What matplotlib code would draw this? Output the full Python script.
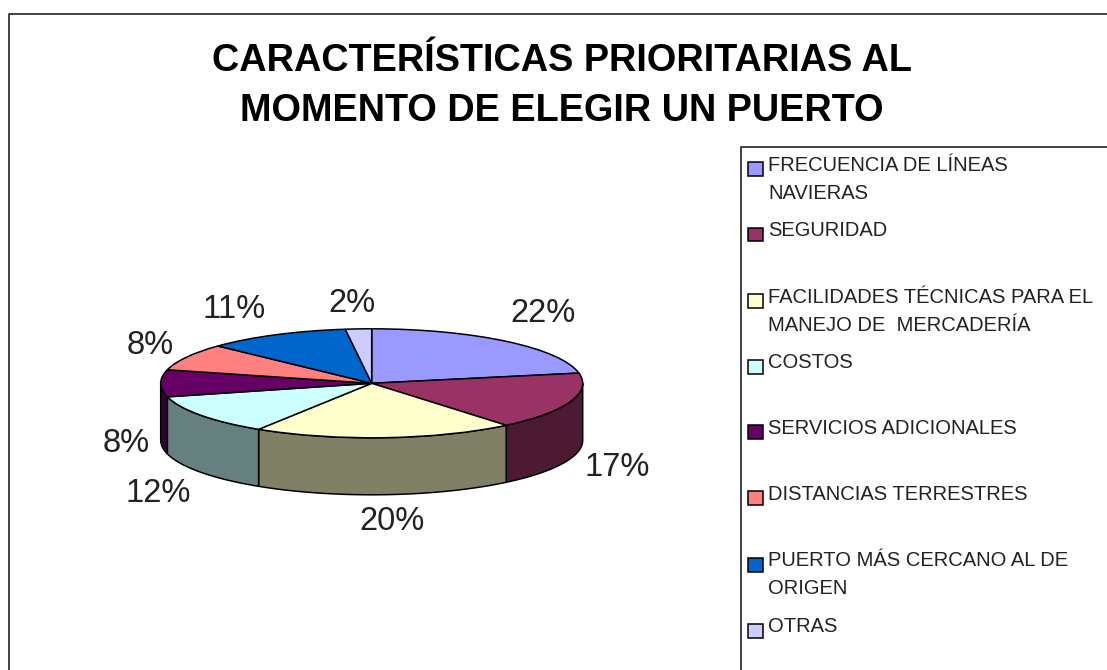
import numpy as np
import matplotlib
matplotlib.use("Agg")
import matplotlib.pyplot as plt
from matplotlib.patches import Rectangle

plt.rcParams['font.family'] = ['Liberation Sans', 'DejaVu Sans']

title = "CARACTERÍSTICAS PRIORITARIAS AL\nMOMENTO DE ELEGIR UN PUERTO"
categories = ["FRECUENCIA DE LÍNEAS\nNAVIERAS", "SEGURIDAD",
              "FACILIDADES TÉCNICAS PARA EL\nMANEJO DE  MERCADERÍA", "COSTOS",
              "SERVICIOS ADICIONALES", "DISTANCIAS TERRESTRES",
              "PUERTO MÁS CERCANO AL DE\nORIGEN", "OTRAS"]
values = [22, 17, 20, 12, 8, 8, 11, 2]
top_colors = ["#9999FF", "#993366", "#FFFFCC", "#CCFFFF",
              "#660066", "#FF8080", "#0066CC", "#CCCCFF"]
side_colors = ["#4D4D80", "#4D1A33", "#808066", "#668080",
               "#330033", "#804040", "#003366", "#666680"]
label_px = [(543, 314), (617, 467), (392, 522), (158, 493),
            (126, 443), (150, 346), (234, 310), (352, 304)]
legend_marker_y = [169, 234.5, 300.7, 366.7, 432, 498, 565, 630.7]
legend_text_y = [165.7, 231, 297.7, 363, 429, 495, 561, 627]

W, H = 1107, 670
CX, CY, RX, RY, DEPTH = 371.7, 383.3, 211.0, 54.5, 57.0

fig = plt.figure(figsize=(W / 100, H / 100), dpi=100, facecolor="white")

# pie axes: one data unit is RX px across and RY px down, which makes the disc an ellipse
ax = fig.add_axes([0, 0, 1, 1])
depth = DEPTH / RY
fractions = np.cumsum([0] + values) / sum(values)
for i, col in enumerate(side_colors):
    # clockwise angle from 12 o'clock; only the front half (90..270 deg) of the wall shows
    a0, a1 = fractions[i] * 360, fractions[i + 1] * 360
    a0, a1 = max(a0, 90), min(a1, 270)
    if a1 <= a0:
        continue
    t = np.radians(np.linspace(a0, a1, 80))
    x, y = np.sin(t), np.cos(t)
    ax.fill(np.r_[x, x[::-1]], np.r_[y, y[::-1] - depth],
            facecolor=col, edgecolor="black", linewidth=1.1, zorder=1)
ax.pie(values, colors=top_colors, startangle=90, counterclock=False, radius=1,
       wedgeprops=dict(edgecolor="black", linewidth=1.1, zorder=2))
ax.set_aspect("auto")
ax.set_xlim(-CX / RX, (W - CX) / RX)
ax.set_ylim((CY - H) / RY, CY / RY)
ax.axis("off")

# overlay in pixel coordinates for frame, title, labels and legend
ov = fig.add_axes([0, 0, 1, 1], facecolor="none")
ov.set_xlim(0, W)
ov.set_ylim(H, 0)
ov.axis("off")
ln = dict(color="#333333", linewidth=1.3)
ov.plot([9, 9, W], [H, 13.5, 13.5], **ln)
ov.plot([740.5, 740.5, W], [H, 147, 147], **ln)

ov.text(562, 86, title, ha="center", va="center", fontsize=27.3,
        fontweight="bold", color="black", linespacing=1.52)

for v, (lx, ly) in zip(values, label_px):
    ov.text(lx, ly, f"{v}%", ha="center", va="center", fontsize=23.5, color="#222222")

for name, col, my, ty in zip(categories, top_colors, legend_marker_y, legend_text_y):
    ov.add_patch(Rectangle((748, my - 6.8), 15, 13.6, facecolor=col,
                           edgecolor="black", linewidth=1.1))
    first, *rest = name.split("\n")
    ov.text(768, ty, first, ha="left", va="center", fontsize=14.5, color="#222222")
    for r in rest:
        ov.text(768, ty + 27.5, r, ha="left", va="center", fontsize=14.5, color="#222222")

fig.savefig("out.png", dpi=100, facecolor="white")
